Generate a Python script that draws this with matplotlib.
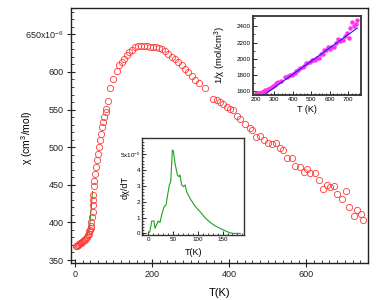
import matplotlib
matplotlib.use("Agg")
import matplotlib.pyplot as plt
from matplotlib.ticker import MultipleLocator

plt.rcParams['font.family'] = ['Liberation Sans', 'DejaVu Sans']

# main chi(T) data, chi in units of 1e-6 cm^3/mol
T = [3, 5, 7, 9, 11, 13, 16, 18, 20, 23, 26, 29, 32, 34, 36, 38, 39, 41, 42, 43,
     45, 46, 47, 47.5, 48, 49, 50, 52, 55, 58, 60, 62, 65, 67.5, 71, 73.5, 76, 80, 82, 85,
     91, 99.5, 110, 115, 121, 128, 134, 140, 147, 156, 164, 172, 180, 188, 195, 203, 211, 218, 225, 234,
     242, 251, 260, 268, 277, 286, 294, 303, 312, 323, 338, 359, 368, 377, 385, 394, 403, 411, 420, 429,
     442, 455, 459, 470, 480, 491, 502, 511, 522, 531, 541, 551, 563, 571, 583, 593, 603, 610, 622, 632,
     643, 654, 662, 673, 681, 693, 703, 712, 723, 732, 742, 747]
chi = [368, 369, 370, 370.5, 371, 372, 373, 374, 375, 376, 377, 379, 381, 383, 385, 388, 390, 393, 395, 401,
       407, 414, 423, 430, 436, 448, 455, 464, 474, 483, 491, 500, 509, 518, 527, 533, 540, 547, 551, 562,
       578, 591, 601, 609.5, 613, 617.5, 622, 626, 629, 633, 634, 634, 634, 634, 633.5, 633, 633, 632, 631, 628.5,
       624, 620.5, 617.5, 613, 608.6, 604, 600, 594, 588.7, 585, 579, 564.5, 563, 560, 557, 554, 551, 549, 542, 538,
       531, 525, 523, 513.5, 514.5, 509, 505, 504, 505, 499, 496, 485, 485, 474.7, 474, 467, 470.7, 465, 466, 456,
       445, 449.5, 447, 448, 437.5, 430.5, 442, 420, 408, 416, 411, 403]

# low temperature guide line
fit_lo_T = [30, 38, 46]
fit_lo_chi = [382, 392, 441]

# inset 1: inverse susceptibility (mol/cm^3)
inv_T = [203, 211, 218, 225, 234, 242, 251, 260, 268, 277, 286, 294, 303, 312, 323, 338, 359, 368, 377, 385,
         394, 403, 411, 420, 429, 442, 455, 459, 470, 480, 491, 502, 511, 522, 531, 541, 551, 563, 571, 583,
         593, 603, 610, 622, 632, 643, 654, 662, 673, 681, 693, 703, 712, 723, 732, 742, 747]
inv_chi = [1580, 1580, 1582, 1585, 1591, 1603, 1612, 1619, 1631, 1643, 1656, 1667, 1684, 1699, 1709, 1727, 1771, 1776, 1786, 1795,
           1805, 1815, 1821, 1845, 1859, 1883, 1905, 1912, 1947, 1944, 1965, 1980, 1984, 1980, 2004, 2016, 2062, 2062, 2107, 2110,
           2141, 2125, 2151, 2146, 2193, 2247, 2225, 2237, 2232, 2286, 2323, 2262, 2381, 2451, 2404, 2433, 2481]
cw_T = [250, 750]
cw_inv = [1565, 2378]

# inset 2: derivative dchi/dT, units 1e-5
d_T = [0, 3, 7, 11.5, 13.6, 18, 20, 23.7, 27, 31.8, 35.8, 38.5, 42.6, 45.3, 48.6, 50.6, 54, 58.7, 62, 64,
       67.5, 71, 74.3, 77.6, 84.4, 94.5, 104.6, 114.8, 125, 135, 145, 155, 165, 172, 186]
d_chi = [0, 0.1, 0.78, 0.78, 0.32, 0.63, 0.78, 0.69, 1.16, 1.68, 1.79, 2.32, 3.06, 3.27, 5.27, 5.2, 4.43, 3.69, 3.58, 3.69,
         3.06, 2.95, 3.06, 2.63, 2.2, 1.72, 1.37, 0.99, 0.69, 0.48, 0.32, 0.17, 0.04, 0.0, 0.0]

fig = plt.figure(figsize=(3.9, 3.0), dpi=100)

# main plot
ax = fig.add_axes([0.182, 0.1233, 0.7615, 0.85])
ax.plot(fit_lo_T, fit_lo_chi, color='#2a9d2a', linewidth=0.8, zorder=2)
ax.plot(T, chi, 'o', markersize=4.5, markerfacecolor='none', markeredgecolor='#ff3a3a',
        markeredgewidth=0.6, linestyle='none', zorder=3)
ax.set_xlim(-10, 760)
ax.set_ylim(346, 685)
ax.xaxis.set_major_locator(MultipleLocator(200))
ax.xaxis.set_minor_locator(MultipleLocator(20))
ax.yaxis.set_major_locator(MultipleLocator(50))
ax.yaxis.set_minor_locator(MultipleLocator(10))
ax.set_yticks([350, 400, 450, 500, 550, 600, 650])
ax.set_yticklabels(['350', '400', '450', '500', '550', '600', r'650x10$^{\mathregular{-6}}$'])
ax.tick_params(which='major', direction='inout', length=6, width=0.8, labelsize=6.5, colors='#222222', pad=2)
ax.tick_params(which='minor', direction='in', length=2.5, width=0.6, colors='#222222')
ax.tick_params(top=False, right=False, which='both')
for s in ax.spines.values():
    s.set_linewidth(1.0)
    s.set_color('#222222')
ax.set_xlabel('T(K)', fontsize=8)
ax.set_ylabel(r'χ (cm$^{\mathregular{3}}$/mol)', fontsize=7.5)
ax.xaxis.set_label_coords(0.5, -0.098)
ax.yaxis.set_label_coords(-0.121, 0.49)

# inset 1: 1/chi
ax1 = fig.add_axes([0.6487, 0.6833, 0.277, 0.2643])
ax1.plot(inv_T, inv_chi, 'o', markersize=2.2, color='#ff33ee', linestyle='none')
ax1.plot(cw_T, cw_inv, color='#1a1aff', linewidth=0.8)
ax1.set_xlim(185, 770)
ax1.set_ylim(1555, 2530)
ax1.xaxis.set_major_locator(MultipleLocator(100))
ax1.xaxis.set_minor_locator(MultipleLocator(20))
ax1.yaxis.set_major_locator(MultipleLocator(200))
ax1.yaxis.set_minor_locator(MultipleLocator(100))
ax1.tick_params(which='major', direction='in', length=3, width=0.6, labelsize=4.5, pad=1.5)
ax1.tick_params(which='minor', direction='in', length=1.5, width=0.5)
for s in ax1.spines.values():
    s.set_linewidth(1.3)
    s.set_color('#333333')
ax1.set_xlabel('T (K)', fontsize=6.5)
ax1.set_ylabel(r'1/χ (mol/cm$^{\mathregular{3}}$)', fontsize=6.8)
ax1.xaxis.set_label_coords(0.5, -0.126)
ax1.yaxis.set_label_coords(-0.23, 0.5)

# inset 2: dchi/dT
ax2 = fig.add_axes([0.365, 0.2167, 0.2615, 0.322])
ax2.plot(d_T, d_chi, color='#22a022', linewidth=0.8)
ax2.set_xlim(-12, 194)
ax2.set_ylim(-0.1, 6.0)
ax2.xaxis.set_major_locator(MultipleLocator(50))
ax2.xaxis.set_minor_locator(MultipleLocator(10))
ax2.yaxis.set_major_locator(MultipleLocator(1))
ax2.yaxis.set_minor_locator(MultipleLocator(0.2))
ax2.set_yticks([0, 1, 2, 3, 4, 5])
ax2.set_yticklabels(['0', '1', '2', '3', '4', r'5x10$^{\mathregular{-5}}$'])
ax2.tick_params(which='major', direction='in', length=3, width=0.6, labelsize=4.5, pad=1.5)
ax2.tick_params(which='minor', direction='in', length=1.5, width=0.5)
for s in ax2.spines.values():
    s.set_linewidth(1.0)
    s.set_color('#333333')
ax2.set_xlabel('T(K)', fontsize=6.5)
ax2.set_ylabel('dχ/dT', fontsize=6.5)
ax2.xaxis.set_label_coords(0.5, -0.131)
ax2.yaxis.set_label_coords(-0.12, 0.49)

fig.savefig('out.png', dpi=100)
